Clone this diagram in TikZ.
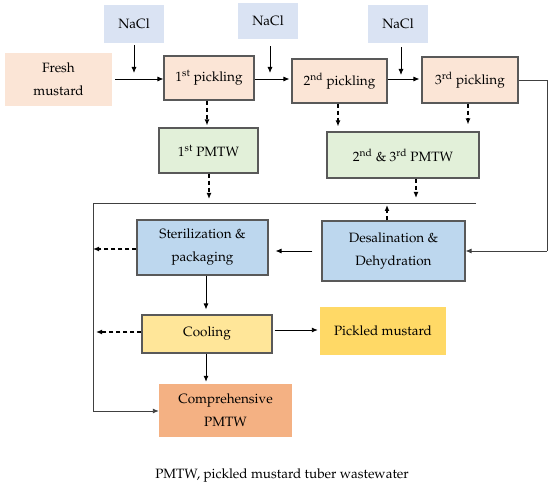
\documentclass[tikz,border=0pt]{standalone}
\usepackage[T1]{fontenc}
\usepackage{mathpazo}
\usetikzlibrary{arrows.meta}
\definecolor{cnacl}{HTML}{DAE3F3}
\definecolor{cpeach}{HTML}{FBE5D6}
\definecolor{cgreen}{HTML}{E2F0D9}
\definecolor{cblue}{HTML}{BDD7EE}
\definecolor{cyell}{HTML}{FFE699}
\definecolor{cgold}{HTML}{FFD966}
\definecolor{corange}{HTML}{F4B183}
\definecolor{cborder}{HTML}{595959}
\tikzset{
  base/.style={rectangle, inner sep=0pt, align=center, font=\fontsize{13.5}{23}\selectfont},
  plain/.style={base, draw=none},
  framed/.style={base, draw=cborder, line width=1.1pt},
  arr/.style={-{Latex[length=6pt,width=5pt]}, line width=0.9pt},
  darr/.style={-{Latex[length=6pt,width=5pt]}, line width=1.2pt, dash pattern=on 4pt off 3pt},
  ln/.style={line width=0.9pt, color=black!75},
}
\begin{document}
\begin{tikzpicture}[x=1pt,y=-1pt]
\useasboundingbox (0,0) rectangle (550,489);
% nodes
\node[plain, fill=cnacl, minimum width=60, minimum height=38] (nacl1) at (134,24) {NaCl};
\node[plain, fill=cnacl, minimum width=60, minimum height=36] (nacl2) at (268,21) {NaCl};
\node[plain, fill=cnacl, minimum width=60, minimum height=38] (nacl3) at (398,24) {NaCl};
\node[plain, fill=cpeach, minimum width=107, minimum height=53] (fresh) at (58.5,79.5) {Fresh\\mustard};
\node[framed, fill=cpeach, minimum width=90, minimum height=44] (p1) at (209,78) {1\textsuperscript{st} pickling};
\node[framed, fill=cpeach, minimum width=95, minimum height=44] (p2) at (339.5,81) {2\textsuperscript{nd} pickling};
\node[framed, fill=cpeach, minimum width=96, minimum height=46] (p3) at (470,80) {3\textsuperscript{rd} pickling};
\node[framed, fill=cgreen, minimum width=99, minimum height=45] (pm1) at (208.5,150.5) {1\textsuperscript{st} PMTW};
\node[framed, fill=cgreen, minimum width=152, minimum height=46] (pm23) at (403,155) {2\textsuperscript{nd} \& 3\textsuperscript{rd} PMTW};
\node[framed, fill=cblue, minimum width=131, minimum height=55] (ster) at (202.5,247.5) {Sterilization \&\\packaging};
\node[framed, fill=cblue, minimum width=143, minimum height=60] (desal) at (393.5,251) {Desalination \&\\Dehydration};
\node[framed, fill=cyell, minimum width=130, minimum height=38] (cool) at (207,334) {Cooling};
\node[plain, fill=cgold, minimum width=126, minimum height=48] (pick) at (383,331) {Pickled mustard};
\node[plain, fill=corange, minimum width=133, minimum height=53] (comp) at (225.5,410.5) {Comprehensive\\PMTW};
\node[base] (cap) at (282,476) {PMTW, pickled mustard tuber wastewater};
% coordinates
\coordinate (f1) at (115,79);
\coordinate (hl) at (93,203);
\coordinate (hr) at (476,203);
\coordinate (lb) at (93,411);
\coordinate (rc) at (547,80);
\coordinate (rd) at (547,251);
\coordinate (n1) at (134,73);
\coordinate (n2) at (270,73);
\coordinate (n3) at (401,75);
% top row
\draw[arr, shorten <=3pt] (fresh.east |- f1) -- (p1.west |- f1);
\draw[arr, shorten <=2pt] (nacl1.south) -- (n1);
\draw[arr, shorten >=2pt] (p1.east |- f1) -- (p2.west |- f1);
\draw[arr, shorten <=7pt] (nacl2.south -| n2) -- (n2);
\draw[arr, shorten >=2pt] (p2.east |- f1) -- (p3.west |- f1);
\draw[arr, shorten <=4pt] (nacl3.south -| n3) -- (n3);
\draw[ln] (p3.east) -- (rc) -- (rd);
\draw[arr, color=black!75] (rd) -- (desal.east);
% dashed from pickling
\draw[darr, shorten >=2pt] (p1.south -| 207,0) -- (pm1.north -| 207,0);
\draw[darr, shorten >=5pt] (p2.south -| 338,0) -- (pm23.north -| 338,0);
\draw[darr, shorten >=7pt] (p3.south -| 468,0) -- (pm23.north -| 468,0);
\draw[darr, shorten >=4pt] (pm1.south -| 209,0) -- (hl -| 209,0);
\draw[darr, shorten >=5pt] (pm23.south -| 416,0) -- (hl -| 416,0);
% waste line
\draw[ln] (hr) -- (hl) -- (lb);
\draw[arr, color=black!75] (lb) -- (comp.west |- lb);
\draw[darr, shorten >=2pt] (desal.north -| 387,0) -- (hl -| 387,0);
\draw[darr] (ster.west |- 0,249) -- (hl |- 0,249);
\draw[darr, shorten >=3pt] (cool.west |- 0,332) -- (hl |- 0,332);
% process
\draw[arr, shorten <=9pt, shorten >=7pt] (desal.west |- 0,251) -- (ster.east |- 0,251);
\draw[arr, shorten >=5pt] (ster.south -| 206,0) -- (cool.north -| 206,0);
\draw[arr, shorten <=2pt, shorten >=2pt] (cool.east |- 0,330) -- (pick.west |- 0,330);
\draw[arr, shorten >=2pt] (cool.south -| 206,0) -- (comp.north -| 206,0);
\end{tikzpicture}
\end{document}
